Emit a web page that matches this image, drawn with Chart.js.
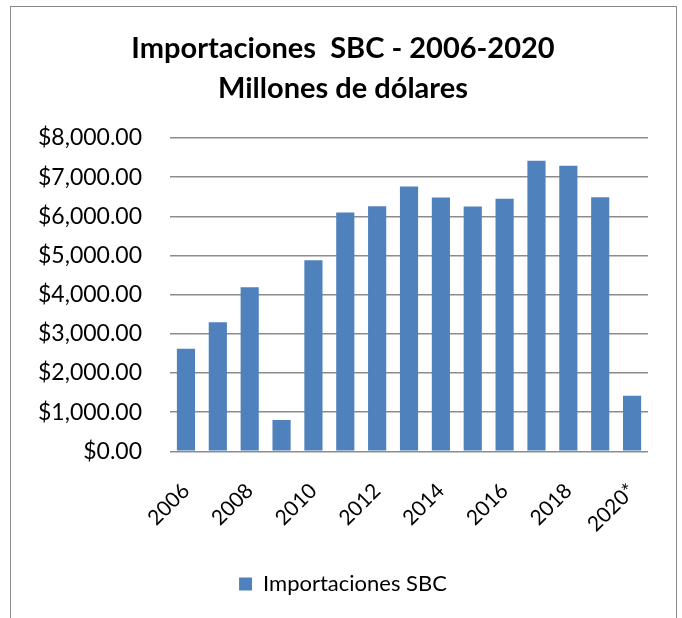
<!DOCTYPE html>
<html>
<head>
<meta charset="utf-8">
<script src="https://cdn.jsdelivr.net/npm/chart.js@4.4.0/dist/chart.umd.min.js"></script>
<style>
    html, body { margin: 0; padding: 0; background: #fff; overflow: hidden; }
    #marco {
        position: absolute;
        left: 10px;
        top: 6px;
        width: 667px;
        height: 640px;
        border: 1px solid #8a8a8a;
        box-sizing: border-box;
    }
    #grafica { display: block; }
</style>
</head>
<body>
<div id="marco">
    <canvas id="grafica" width="665" height="612"></canvas>
</div>
<script>
// Datos
const anios = ['2006', '2007', '2008', '2009', '2010', '2011', '2012', '2013',
               '2014', '2015', '2016', '2017', '2018', '2019', '2020*'];
const importaciones = [2620, 3300, 4190, 800, 4880, 6100, 6260, 6760,
                       6480, 6250, 6450, 7420, 7290, 6490, 1420];
const tituloLineas = ['Importaciones  SBC - 2006-2020', 'Millones de dólares'];
const nombreSerie = 'Importaciones SBC';

const FUENTE = 'Lato, "Open Sans", sans-serif';
const AZUL = '#4F81BD';
const PADDING_Y = 28;

function formatoDolar(valor) {
    return '$' + Number(valor).toLocaleString('en-US', {
        minimumFractionDigits: 2,
        maximumFractionDigits: 2
    });
}

new Chart(document.getElementById('grafica').getContext('2d'), {
    type: 'bar',
    data: {
        labels: anios,
        datasets: [{
            label: nombreSerie,
            data: importaciones,
            backgroundColor: AZUL,
            borderWidth: 0,
            categoryPercentage: 1,
            barPercentage: 0.57
        }]
    },
    options: {
        responsive: false,
        animation: false,
        layout: { padding: { left: 27, right: 28, top: 12, bottom: 14 } },
        plugins: {
            title: {
                display: true,
                text: tituloLineas,
                color: '#000',
                font: { family: FUENTE, size: 29, weight: 'bold', lineHeight: 1.38 },
                padding: { top: 10, bottom: 29 }
            },
            legend: {
                position: 'bottom',
                labels: {
                    color: '#000',
                    font: { family: FUENTE, size: 22 },
                    boxWidth: 13,
                    boxHeight: 13,
                    padding: 10
                }
            },
            tooltip: { enabled: false }
        },
        scales: {
            x: {
                grid: { display: false },
                border: { display: false },
                ticks: {
                    color: '#000',
                    font: { family: FUENTE, size: 21 },
                    autoSkip: false,
                    maxRotation: 45,
                    minRotation: 45,
                    padding: 19,
                    callback: function (valor, indice) {
                        return indice % 2 === 0 ? this.getLabelForValue(valor) : '';
                    }
                },
                // espacio extra entre las etiquetas y la leyenda
                afterFit: function (escala) { escala.height += 7; }
            },
            y: {
                min: 0,
                max: 8000,
                border: { display: false },
                grid: { color: '#8c8c8c', lineWidth: 1.6, drawTicks: false },
                ticks: {
                    stepSize: 1000,
                    color: '#000',
                    font: { family: FUENTE, size: 23 },
                    padding: PADDING_Y,
                    callback: formatoDolar
                },
                // Chart.js suma el padding dos veces al ancho del eje
                afterFit: function (escala) { escala.width -= PADDING_Y; }
            }
        }
    }
});
</script>
</body>
</html>
